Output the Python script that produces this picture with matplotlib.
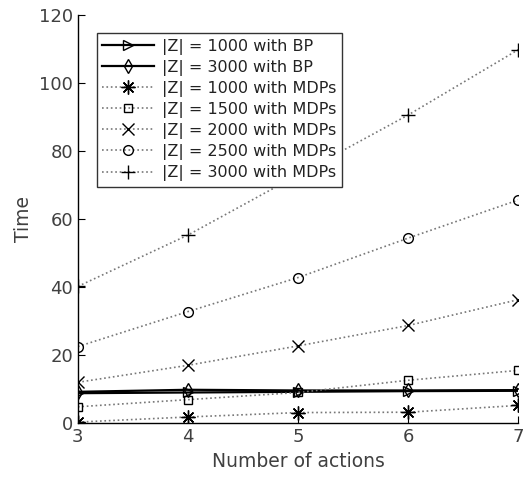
import numpy as np
import matplotlib.pyplot as plt

actions = [3, 4, 5, 6, 7]

bp_1000 = [8.8, 9.0, 9.2, 9.4, 9.5]
bp_3000 = [9.2, 9.8, 9.6, 9.6, 9.7]
mdp_1000 = [0.3, 1.8, 3.1, 3.2, 5.2]
mdp_1500 = [4.8, 6.9, 9.0, 12.6, 15.5]
mdp_2000 = [12.0, 17.0, 22.7, 28.7, 36.3]
mdp_2500 = [22.5, 32.8, 42.8, 54.4, 65.6]
mdp_3000 = [40.2, 55.3, 73.0, 90.6, 109.8]

labels = ['|Z| = 1000 with BP', '|Z| = 3000 with BP',
          '|Z| = 1000 with MDPs', '|Z| = 1500 with MDPs',
          '|Z| = 2000 with MDPs', '|Z| = 2500 with MDPs',
          '|Z| = 3000 with MDPs']

txt = '#404040'
fig = plt.figure(figsize=(5.23, 4.83), dpi=100)
ax = fig.add_axes([0.149, 0.124, 0.842, 0.845])

ax.plot(actions, bp_1000, '-', color='black', lw=1.6, marker='>', ms=7,
        mfc='none', mec='black', label=labels[0])
ax.plot(actions, bp_3000, '-', color='black', lw=1.6, marker='d', ms=7,
        mfc='none', mec='black', label=labels[1])

mdp = [mdp_1000, mdp_1500, mdp_2000, mdp_2500, mdp_3000]
marks = [(8, 2, 0), 's', 'x', 'o', '+']
sizes = [10, 6, 8, 7, 10]
for vals, m, s, lab in zip(mdp, marks, sizes, labels[2:]):
    ax.plot(actions, vals, ':', color='#777777', lw=1.2, marker=m, ms=s,
            mfc='none', mec='black', mew=1.0, label=lab)

ax.set_xlim(3, 7)
ax.set_ylim(0, 120)
ax.set_xticks([3, 4, 5, 6, 7])
ax.set_yticks(np.arange(0, 121, 20))
for side in ['top', 'right']:
    ax.spines[side].set_visible(False)
for side in ['left', 'bottom']:
    ax.spines[side].set_color('black')
    ax.spines[side].set_linewidth(1.0)
ax.tick_params(direction='in', length=5, labelsize=13, labelcolor=txt, color='black')
ax.set_xlabel('Number of actions', fontsize=13.5, color=txt)
ax.set_ylabel('Time', fontsize=13.5, color=txt)

leg = ax.legend(loc='upper left', bbox_to_anchor=(0.043, 0.956), fontsize=11.5,
                fancybox=False, framealpha=1, edgecolor='#333333',
                handlelength=3.2, handletextpad=0.55, borderpad=0.35,
                labelspacing=0.32, borderaxespad=0)
leg.get_frame().set_linewidth(1.0)
for t in leg.get_texts():
    t.set_color('#222222')

fig.savefig('out.png', dpi=100)
